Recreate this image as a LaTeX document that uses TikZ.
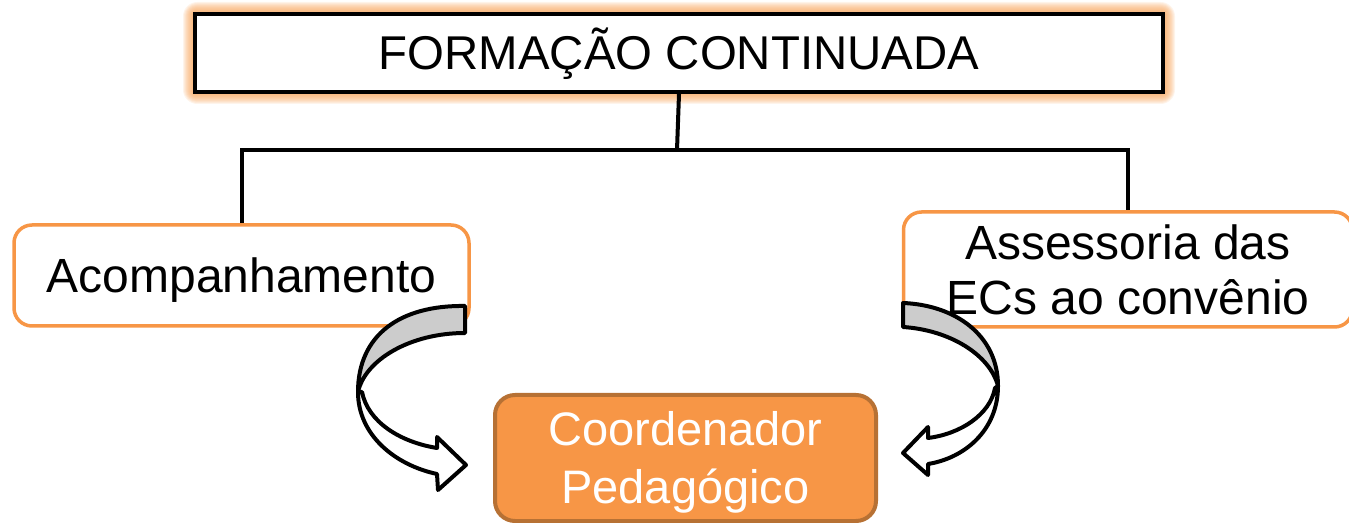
\documentclass[tikz,border=0pt]{standalone}
\usepackage{fontspec}
\setmainfont{Liberation Sans}
\definecolor{boxorange}{HTML}{F79646}
\definecolor{darkorange}{HTML}{B77134}
\definecolor{glowc}{HTML}{F8A45A}
\definecolor{arrgray}{HTML}{CCCCCC}
\begin{document}
\begin{tikzpicture}[x=0.5pt,y=-0.5pt,
  topbox/.style={draw=black, line width=2pt, fill=white, inner sep=0pt,
    minimum width=484pt, minimum height=39pt,
    font=\fontsize{23.7}{28}\selectfont, text height=17pt, text depth=0pt},
  sidebox/.style={draw=boxorange, line width=1.75pt, rounded corners=9pt, fill=white,
    inner sep=0pt, align=center, font=\fontsize{24}{27.5}\selectfont},
  centbox/.style={draw=darkorange, line width=2pt, rounded corners=10pt, fill=boxorange,
    inner sep=0pt, align=center, text=white, font=\fontsize{23.5}{29}\selectfont,
    text height=45.8pt, text depth=0pt, minimum width=190.5pt, minimum height=63pt},
  conn/.style={draw=black, line width=2pt},
  arrw/.style={draw=black, line width=2pt, line join=round}]
\useasboundingbox (0,0) rectangle (1349,523);
% glow behind top box
\path (679,53) coordinate (topc);
\foreach \i in {1,...,12}{
  \fill[glowc, opacity=0.12, rounded corners=\i*0.6pt]
    ([shift={(-484-\i,-39-\i)}]topc) rectangle ([shift={(484+\i,39+\i)}]topc);
}
\node[topbox] (top) at (topc) {FORMAÇÃO CONTINUADA};
\node[sidebox, minimum width=227.5pt, minimum height=50.5pt, text height=17.2pt, text depth=0pt] (acomp) at (241.5,275.5) {Acompanhamento};
\node[sidebox, minimum width=224.5pt, minimum height=57.5pt, text height=44.7pt, text depth=0pt] (asses) at (1128,269.5) {Assessoria das\\ECs ao convênio};
\node[centbox] (coord) at (685.5,458) {Coordenador\\Pedagógico};
% connectors
\coordinate (j) at (677,150);
\draw[conn] (top.south) -- (j);
\draw[conn] (acomp.north) -- (acomp.north |- j) -- (asses.north |- j) -- (asses.north);
% left curved arrow
\filldraw[arrw, fill=white] (358,392) .. controls (358,435) and (395,465) .. (437,474)
  -- (438,490) -- (466,465) -- (437,437) -- (437,448)
  .. controls (400,442) and (368,422) .. (362,392) -- cycle;
\filldraw[arrw, fill=arrgray] (465,306) .. controls (400,305) and (358,335) .. (358,392)
  .. controls (365,360) and (410,333) .. (465,333) -- cycle;
% right curved arrow
\filldraw[arrw, fill=white] (998,386) .. controls (998,430) and (965,458) .. (928,464)
  -- (928,475) -- (903,453) -- (928,427) -- (928,438)
  .. controls (960,434) and (990,415) .. (995,388) -- cycle;
\filldraw[arrw, fill=arrgray] (903,303) .. controls (955,305) and (998,335) .. (998,386)
  .. controls (990,355) and (950,330) .. (903,327) -- cycle;
\end{tikzpicture}
\end{document}
